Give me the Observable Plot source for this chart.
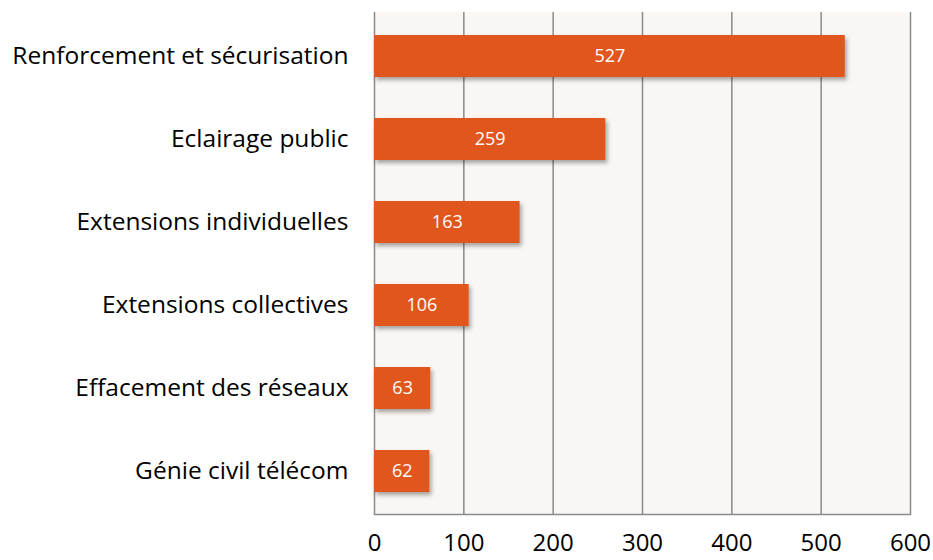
<!DOCTYPE html>
<html>
<head>
<meta charset="utf-8">
<script src="https://cdn.jsdelivr.net/npm/d3@7"></script>
<script src="https://cdn.jsdelivr.net/npm/@observablehq/plot@0.6"></script>
<style>
  html, body { margin: 0; padding: 0; background: #ffffff; }
  #chart { width: 933px; height: 560px; }
</style>
</head>
<body>
<div id="chart"></div>
<script>
const categories = [
  "Renforcement et sécurisation",
  "Eclairage public",
  "Extensions individuelles",
  "Extensions collectives",
  "Effacement des réseaux",
  "Génie civil télécom"
];
const values = [527, 259, 163, 106, 63, 62];
const xTicks = [0, 100, 200, 300, 400, 500, 600];

const data = categories.map((c, i) => ({category: c, value: values[i]}));
const font = "'Open Sans', 'Liberation Sans', sans-serif";

const chart = Plot.plot({
  width: 933,
  height: 560,
  marginLeft: 374,
  marginRight: 23,
  marginTop: 12,
  marginBottom: 46,
  style: {fontFamily: font, background: "#ffffff", color: "#000"},
  x: {domain: [0, 600], ticks: xTicks, label: null},
  y: {domain: categories, label: null, paddingInner: 0.5, paddingOuter: 0.25},
  marks: [
    Plot.frame({fill: "#faf6f3", stroke: null}),
    Plot.gridX(xTicks, {stroke: "#8a8a8a", strokeOpacity: 1, strokeWidth: 1.5}),
    Plot.frame({anchor: "bottom", stroke: "#8a8a8a", strokeWidth: 1.5}),
    Plot.barX(data, {y: "category", x: "value", fill: "#e0561c"}),
    Plot.text(data, {y: "category", x: d => d.value / 2, text: d => String(d.value), fill: "white", fontSize: 18}),
    Plot.axisX(xTicks, {tickSize: 0, tickPadding: 19, fontSize: 24, fill: "#000", anchor: "bottom"}),
    Plot.axisY({tickSize: 0, tickPadding: 26, fontSize: 24.5, fill: "#000", anchor: "left"})
  ]
});

// drop shadow on bars
const svg = d3.select(chart);
const defs = svg.insert("defs", ":first-child");
const f = defs.append("filter").attr("id", "shadow").attr("x", "-10%").attr("y", "-30%").attr("width", "130%").attr("height", "190%");
f.append("feDropShadow").attr("dx", 2).attr("dy", 3).attr("stdDeviation", 2).attr("flood-color", "#000").attr("flood-opacity", 0.35);
svg.selectAll("g[aria-label='bar'] rect").attr("filter", "url(#shadow)");

document.getElementById("chart").appendChild(chart);
</script>
</body>
</html>
